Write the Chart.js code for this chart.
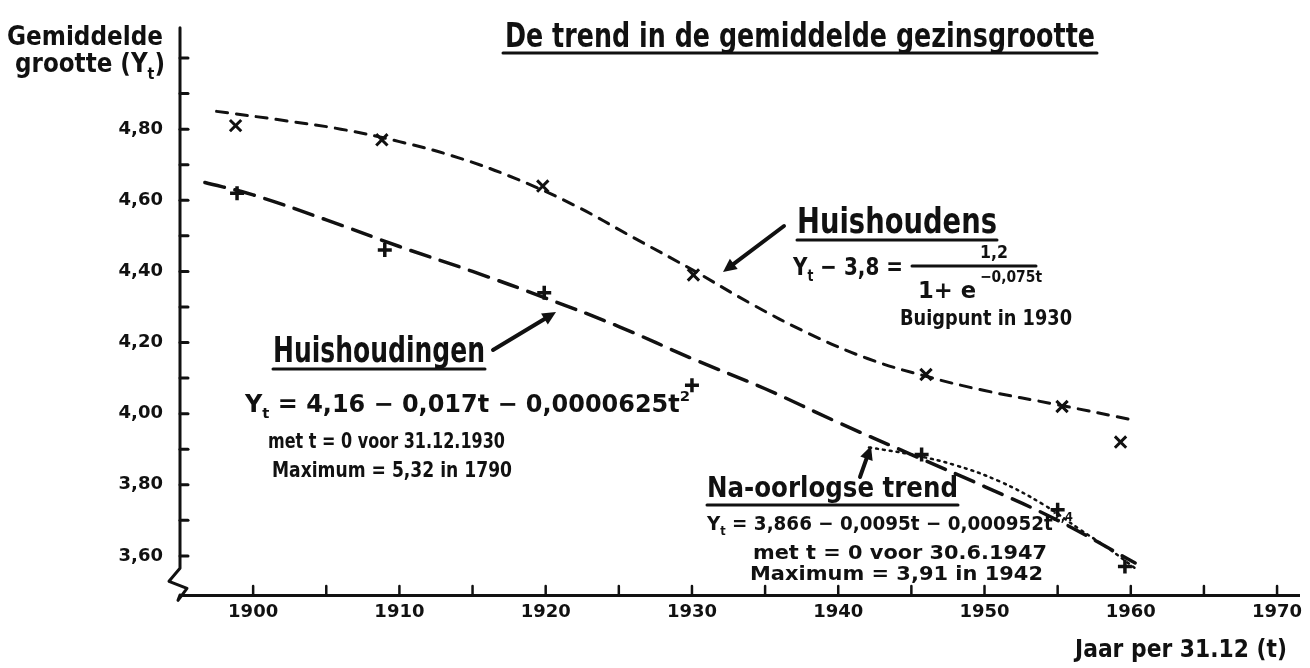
<!DOCTYPE html>
<html>
<head>
<meta charset="utf-8">
<title>De trend in de gemiddelde gezinsgrootte</title>
<script src="https://cdn.jsdelivr.net/npm/chart.js@4.4.1/dist/chart.umd.min.js"></script>
<style>
    html, body { margin: 0; padding: 0; background: #fff; }
    #wrap { width: 1310px; height: 668px; }
</style>
</head>
<body>
<div id="wrap"><canvas id="trendChart"></canvas></div>
<script>
// Waarnemingen
const huishoudensJaren = [1898.8, 1908.8, 1919.8, 1930.1, 1946.0, 1955.3, 1959.3];
const huishoudensWaarden = [4.81, 4.77, 4.64, 4.39, 4.11, 4.02, 3.92];

const huishoudingenJaren = [1898.9, 1909.0, 1919.9, 1930.0, 1945.7, 1955.0, 1959.6];
const huishoudingenWaarden = [4.62, 4.46, 4.34, 4.08, 3.885, 3.73, 3.57];

// Getekende trendlijnen
const trendHuishoudensJaren = [1897.5, 1902, 1906, 1910, 1914, 1918, 1922, 1926, 1930, 1934, 1938, 1942, 1946, 1950, 1955, 1960.4];
const trendHuishoudensWaarden = [4.85, 4.825, 4.80, 4.765, 4.72, 4.66, 4.585, 4.495, 4.405, 4.31, 4.225, 4.155, 4.105, 4.065, 4.025, 3.98];

const trendHuishoudingenJaren = [1896.7, 1900, 1905, 1910, 1915, 1920, 1925, 1930, 1935, 1940, 1945, 1950, 1955, 1960.3];
const trendHuishoudingenWaarden = [4.65, 4.615, 4.545, 4.47, 4.40, 4.325, 4.245, 4.155, 4.07, 3.975, 3.885, 3.795, 3.70, 3.58];

const naoorlogsJaren = [1942.1, 1945, 1948, 1951, 1954, 1956.5, 1958.5, 1960.3];
const naoorlogsWaarden = [3.905, 3.885, 3.855, 3.81, 3.745, 3.675, 3.62, 3.565];

// Assen
const xTickJaren = [1900, 1905, 1910, 1915, 1920, 1925, 1930, 1935, 1940, 1945, 1950, 1955, 1960, 1965, 1970];
const xTickLabels = ['1900', '', '1910', '', '1920', '', '1930', '', '1940', '', '1950', '', '1960', '', '1970'];
const yTickWaarden = [3.6, 3.7, 3.8, 3.9, 4.0, 4.1, 4.2, 4.3, 4.4, 4.5, 4.6, 4.7, 4.8, 4.9, 5.0];
const yTickLabels = ['3,60', '', '3,80', '', '4,00', '', '4,20', '', '4,40', '', '4,60', '', '4,80', '', ''];

const INKT = '#111';
const FONT = '"DejaVu Sans"';

function punten(jaren, waarden) {
    return jaren.map((j, i) => ({ x: j, y: waarden[i] }));
}

/**
 * Schrijf tekst in delen (normaal, sub, sup), horizontaal geschaald tot de gewenste breedte
 */
function schrijf(ctx, delen, x, y, grootte, breedte) {
    const items = delen.map(d => (typeof d === 'string' ? { t: d } : d));
    let totaal = 0;
    items.forEach(it => {
        it.s = it.k ? grootte * 0.62 : grootte;
        ctx.font = 'bold ' + it.s + 'px ' + FONT;
        it.w = ctx.measureText(it.t).width;
        totaal += it.w;
    });
    const sx = breedte ? breedte / totaal : 1;
    ctx.save();
    ctx.translate(x, y);
    ctx.scale(sx, 1);
    ctx.fillStyle = INKT;
    ctx.textAlign = 'left';
    ctx.textBaseline = 'alphabetic';
    let cx = 0;
    items.forEach(it => {
        ctx.font = 'bold ' + it.s + 'px ' + FONT;
        let dy = 0;
        if (it.k === 'sub') dy = grootte * 0.25;
        if (it.k === 'sup') dy = -grootte * 0.45;
        ctx.fillText(it.t, cx, dy);
        cx += it.w;
    });
    ctx.restore();
}

function lijn(ctx, x1, y1, x2, y2, breedte) {
    ctx.beginPath();
    ctx.lineWidth = breedte || 3;
    ctx.moveTo(x1, y1);
    ctx.lineTo(x2, y2);
    ctx.stroke();
}

function pijl(ctx, x1, y1, x2, y2) {
    const hoek = Math.atan2(y2 - y1, x2 - x1);
    const kop = 15;
    ctx.lineWidth = 4;
    ctx.beginPath();
    ctx.moveTo(x1, y1);
    ctx.lineTo(x2 - Math.cos(hoek) * kop * 0.7, y2 - Math.sin(hoek) * kop * 0.7);
    ctx.stroke();
    ctx.beginPath();
    ctx.moveTo(x2, y2);
    ctx.lineTo(x2 - kop * Math.cos(hoek - 0.45), y2 - kop * Math.sin(hoek - 0.45));
    ctx.lineTo(x2 - kop * Math.cos(hoek + 0.45), y2 - kop * Math.sin(hoek + 0.45));
    ctx.closePath();
    ctx.fill();
}

// Assen, maatstreepjes en handgeschreven teksten
const tekeningPlugin = {
    id: 'tekening',
    afterDraw(chart) {
        const ctx = chart.ctx;
        const xs = chart.scales.x;
        const ys = chart.scales.y;
        const area = chart.chartArea;
        ctx.save();
        ctx.strokeStyle = INKT;
        ctx.fillStyle = INKT;
        ctx.lineCap = 'round';
        ctx.lineJoin = 'round';

        // y-as met onderbreking
        const breuk = ys.getPixelForValue(3.565);
        ctx.lineWidth = 3;
        ctx.beginPath();
        ctx.moveTo(area.left, area.top);
        ctx.lineTo(area.left, breuk);
        ctx.lineTo(area.left - 11, breuk + 13);
        ctx.lineTo(area.left + 7, breuk + 20);
        ctx.lineTo(area.left - 2, breuk + 32);
        ctx.lineTo(area.left, area.bottom);
        ctx.stroke();

        // maatstreepjes binnen de assen
        ys.ticks.forEach(t => {
            const y = ys.getPixelForValue(t.value);
            lijn(ctx, area.left, y, area.left + 8, y, 3);
        });
        xs.ticks.forEach(t => {
            const x = xs.getPixelForValue(t.value);
            lijn(ctx, x, area.bottom, x, area.bottom - 9, 2.5);
        });

        // titels
        schrijf(ctx, ['De trend in de gemiddelde gezinsgrootte'], 505, 47, 34, 590);
        lijn(ctx, 503, 53, 1097, 53, 3);
        schrijf(ctx, ['Gemiddelde'], 7, 45, 26, 156);
        schrijf(ctx, ['grootte (Y', { t: 't', k: 'sub' }, ')'], 15, 72, 26, 150);
        schrijf(ctx, ['Jaar per 31.12 (t)'], 1075, 657, 24, 212);

        // Huishoudens
        schrijf(ctx, ['Huishoudens'], 797, 233, 36, 200);
        lijn(ctx, 797, 240, 997, 240, 3);
        schrijf(ctx, ['Y', { t: 't', k: 'sub' }, ' − 3,8 ='], 793, 275, 25, 110);
        lijn(ctx, 912, 266, 1036, 266, 3);
        schrijf(ctx, ['1,2'], 980, 258, 18, 28);
        schrijf(ctx, ['1+ e'], 918, 298, 23, 58);
        schrijf(ctx, ['−0,075t'], 980, 282, 16, 62);
        schrijf(ctx, ['Buigpunt in 1930'], 900, 325, 21, 172);
        pijl(ctx, 784, 226, 723, 272);

        // Huishoudingen
        schrijf(ctx, ['Huishoudingen'], 273, 362, 36, 212);
        lijn(ctx, 273, 369, 485, 369, 3);
        pijl(ctx, 493, 350, 556, 312);
        schrijf(ctx, ['Y', { t: 't', k: 'sub' }, ' = 4,16 − 0,017t − 0,0000625t', { t: '2', k: 'sup' }], 245, 412, 24, 445);
        schrijf(ctx, ['met t = 0 voor 31.12.1930'], 268, 448, 21, 237);
        schrijf(ctx, ['Maximum = 5,32 in 1790'], 272, 477, 21, 240);

        // Na-oorlogse trend
        schrijf(ctx, ['Na-oorlogse trend'], 707, 497, 28, 251);
        lijn(ctx, 707, 505, 958, 505, 3);
        schrijf(ctx, ['Y', { t: 't', k: 'sub' }, ' = 3,866 − 0,0095t − 0,000952t', { t: '2,4', k: 'sup' }], 707, 530, 20, 366);
        schrijf(ctx, ['met t = 0 voor 30.6.1947'], 753, 559, 19, 294);
        schrijf(ctx, ['Maximum = 3,91 in 1942'], 750, 580, 19, 293);
        pijl(ctx, 860, 477, 871, 446);

        ctx.restore();
    }
};

function initTrendChart() {
    const canvas = document.getElementById('trendChart');
    if (!canvas) {
        console.error('Canvas not found');
        return;
    }
    const ctx = canvas.getContext('2d');

    new Chart(ctx, {
        type: 'scatter',
        data: {
            datasets: [
                {
                    label: 'Trend huishoudens',
                    data: punten(trendHuishoudensJaren, trendHuishoudensWaarden),
                    showLine: true,
                    borderColor: INKT,
                    borderWidth: 3,
                    borderDash: [11, 9],
                    borderCapStyle: 'round',
                    tension: 0.4,
                    pointRadius: 0
                },
                {
                    label: 'Trend huishoudingen',
                    data: punten(trendHuishoudingenJaren, trendHuishoudingenWaarden),
                    showLine: true,
                    borderColor: INKT,
                    borderWidth: 3.5,
                    borderDash: [20, 11],
                    borderCapStyle: 'round',
                    tension: 0.4,
                    pointRadius: 0
                },
                {
                    label: 'Na-oorlogse trend',
                    data: punten(naoorlogsJaren, naoorlogsWaarden),
                    showLine: true,
                    borderColor: INKT,
                    borderWidth: 2.5,
                    borderDash: [2, 5],
                    borderCapStyle: 'round',
                    tension: 0.4,
                    pointRadius: 0
                },
                {
                    label: 'Huishoudens',
                    data: punten(huishoudensJaren, huishoudensWaarden),
                    pointStyle: 'crossRot',
                    pointRadius: 8,
                    pointBorderWidth: 3,
                    borderColor: INKT,
                    backgroundColor: INKT
                },
                {
                    label: 'Huishoudingen',
                    data: punten(huishoudingenJaren, huishoudingenWaarden),
                    pointStyle: 'cross',
                    pointRadius: 7,
                    pointBorderWidth: 3.5,
                    borderColor: INKT,
                    backgroundColor: INKT
                }
            ]
        },
        options: {
            responsive: true,
            maintainAspectRatio: false,
            animation: false,
            layout: {
                padding: { top: 13, right: 8, left: 0, bottom: 0 }
            },
            plugins: {
                legend: { display: false },
                tooltip: { enabled: false }
            },
            scales: {
                x: {
                    type: 'linear',
                    min: 1895,
                    max: 1971.5,
                    grid: { display: false, drawTicks: false },
                    border: { display: true, color: INKT, width: 3 },
                    afterBuildTicks: function(scale) {
                        scale.ticks = xTickJaren.map(v => ({ value: v }));
                    },
                    afterFit: function(scale) {
                        scale.height = 73;
                    },
                    ticks: {
                        autoSkip: false,
                        maxRotation: 0,
                        padding: 7,
                        color: INKT,
                        font: { family: 'DejaVu Sans', size: 18, weight: 'bold' },
                        callback: function(value, index) {
                            return xTickLabels[index];
                        }
                    }
                },
                y: {
                    type: 'linear',
                    min: 3.49,
                    max: 5.085,
                    grid: { display: false, drawTicks: false },
                    border: { display: false },
                    afterBuildTicks: function(scale) {
                        scale.ticks = yTickWaarden.map(v => ({ value: v }));
                    },
                    afterFit: function(scale) {
                        scale.width = 180;
                    },
                    ticks: {
                        autoSkip: false,
                        padding: 17,
                        color: INKT,
                        font: { family: 'DejaVu Sans', size: 18, weight: 'bold' },
                        callback: function(value, index) {
                            return yTickLabels[index];
                        }
                    }
                }
            }
        },
        plugins: [tekeningPlugin]
    });
}

document.addEventListener('DOMContentLoaded', initTrendChart);
</script>
</body>
</html>
